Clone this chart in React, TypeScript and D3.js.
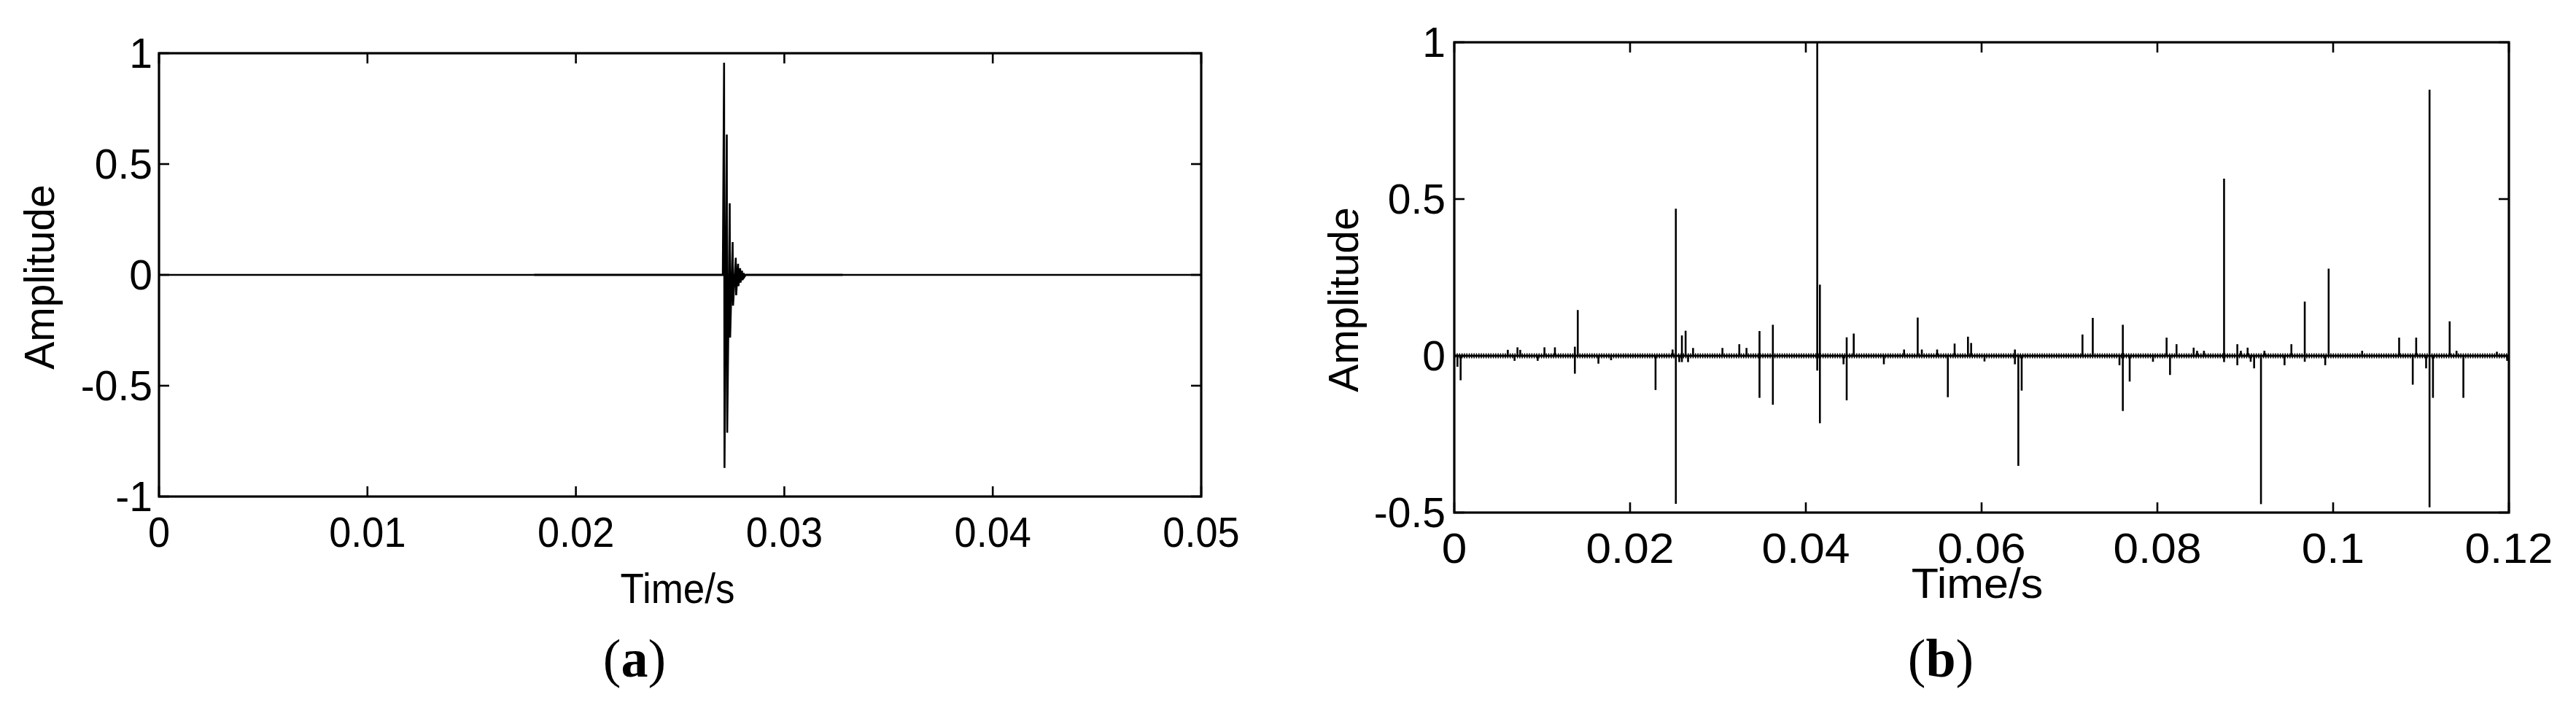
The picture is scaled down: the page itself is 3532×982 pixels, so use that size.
import React from 'react';
import * as d3 from 'd3';

const W = 3532;
const H = 982;

// ---------- Panel (a) data ----------
const aXTicks = [0, 0.01, 0.02, 0.03, 0.04, 0.05];
const aYTicks = [-1, -0.5, 0, 0.5, 1];
const aTime = [
  0, 0.02705, 0.02711, 0.02713, 0.02724, 0.02726, 0.02738, 0.0274, 0.02752, 0.02754,
  0.02767, 0.02769, 0.02778, 0.0278, 0.02788, 0.0279, 0.02797, 0.02799, 0.02805, 0.02808,
  0.02815, 0.05,
];
const aAmp = [
  0, 0, 0.957, -0.871, 0.633, -0.712, 0.323, -0.283, 0.148, -0.139,
  0.077, -0.092, 0.05, -0.051, 0.03, -0.035, 0.019, -0.024, 0.008, -0.01,
  0, 0,
];
const aNoiseSpan = [0.018, 0.0328];

// ---------- Panel (b) data ----------
const bXTicks = [0, 0.02, 0.04, 0.06, 0.08, 0.1, 0.12];
const bYTicks = [-0.5, 0, 0.5, 1];
const bSpikeTime = [
  0.00036, 0.00072, 0.00609, 0.00686, 0.00719, 0.0075, 0.00949, 0.01026, 0.01145, 0.01372,
  0.01405, 0.0164, 0.01784, 0.0229, 0.02484, 0.02521, 0.0256, 0.0259, 0.02632, 0.0266,
  0.02717, 0.03051, 0.03243, 0.03325, 0.03473, 0.03625, 0.0413, 0.0416, 0.04429, 0.04465,
  0.04545, 0.04888, 0.05118, 0.05273, 0.0532, 0.05494, 0.05616, 0.05693, 0.05845, 0.05881,
  0.06033, 0.06379, 0.06418, 0.06456, 0.07148, 0.07265, 0.07569, 0.07607, 0.07685, 0.0795,
  0.08105, 0.08144, 0.08218, 0.08413, 0.08452, 0.0853, 0.08759, 0.0891, 0.0895, 0.09027,
  0.09062, 0.09101, 0.09179, 0.09218, 0.09447, 0.09525, 0.09677, 0.0991, 0.09949, 0.1033,
  0.10751, 0.10906, 0.10945, 0.11058, 0.11097, 0.11136, 0.11326, 0.11404, 0.11482, 0.11863,
  0.1198,
];
const bSpikeUp = [
  0, 0, 0.019, 0, 0.027, 0.019, 0, 0.027, 0.027, 0.029,
  0.146, 0, 0, 0, 0.02, 0.469, 0, 0.065, 0.08, 0,
  0.025, 0.025, 0.037, 0.025, 0.079, 0.099, 1.0, 0.227, 0, 0.059,
  0.071, 0, 0.02, 0.122, 0.02, 0.02, 0, 0.039, 0.061, 0.041,
  0, 0.02, 0, 0, 0.068, 0.121, 0, 0.099, 0, 0,
  0.058, 0, 0.037, 0.026, 0.016, 0.016, 0.565, 0.037, 0.016, 0.026,
  0, 0, 0, 0.016, 0, 0.037, 0.173, 0, 0.278, 0.016,
  0.058, 0, 0.058, 0, 0.849, 0, 0.11, 0.016, 0, 0.013,
  0,
];
const bSpikeDown = [
  -0.035, -0.078, 0, -0.016, 0, 0, -0.016, 0, 0, -0.057,
  0, -0.025, -0.014, -0.109, 0, -0.472, -0.02, -0.02, 0, -0.02,
  0, 0, 0, 0, -0.134, -0.156, -0.047, -0.215, -0.027, -0.142,
  0, -0.027, 0, 0, 0, 0, -0.132, 0, 0, 0,
  -0.018, -0.027, -0.351, -0.111, 0, 0, -0.03, -0.176, -0.082, -0.019,
  0, -0.061, 0, 0, 0, 0, -0.02, -0.03, 0, 0,
  -0.019, -0.04, -0.473, 0, -0.03, 0, -0.019, -0.03, 0, 0,
  0, -0.092, 0, -0.04, -0.483, -0.134, 0, 0, -0.134, 0,
  -0.016,
];

const SANS = '"Liberation Sans", Arial, Helvetica, sans-serif';
const SERIF = '"Liberation Serif", "Times New Roman", serif';
const FS = 57;
const TICK = 14;

type PanelProps = {
  x0: number; x1: number; yTop: number; yBot: number;
  xDomain: [number, number]; yDomain: [number, number];
  xTicks: number[]; yTicks: number[];
  xLabelBase: number; xLabelSx: number;
  yLabelEnd: number;
  xTitle: { x: number; y: number; sx: number };
  yTitle: { x: number; y: number };
  cap: { x: number; y: number; letter: string };
  children: (x: d3.ScaleLinear<number, number>, y: d3.ScaleLinear<number, number>) => React.ReactNode;
};

function Panel(p: PanelProps) {
  const x = d3.scaleLinear().domain(p.xDomain).range([p.x0, p.x1]);
  const y = d3.scaleLinear().domain(p.yDomain).range([p.yBot, p.yTop]);
  return (
    <g>
      {p.children(x, y)}
      {/* box */}
      <rect x={p.x0} y={p.yTop} width={p.x1 - p.x0} height={p.yBot - p.yTop}
        fill="none" stroke="#000" strokeWidth={3.2} />
      {/* x ticks (inward, top & bottom) */}
      {p.xTicks.map((t) => (
        <g key={'xt' + t}>
          <line x1={x(t)} x2={x(t)} y1={p.yBot} y2={p.yBot - TICK} stroke="#000" strokeWidth={2.6} />
          <line x1={x(t)} x2={x(t)} y1={p.yTop} y2={p.yTop + TICK} stroke="#000" strokeWidth={2.6} />
          <text transform={`translate(${x(t)},${p.xLabelBase}) scale(${p.xLabelSx},1)`}
            textAnchor="middle" fontFamily={SANS} fontSize={FS} fill="#000">{String(t)}</text>
        </g>
      ))}
      {/* y ticks (inward, left & right) */}
      {p.yTicks.map((t) => (
        <g key={'yt' + t}>
          <line x1={p.x0} x2={p.x0 + TICK} y1={y(t)} y2={y(t)} stroke="#000" strokeWidth={2.6} />
          <line x1={p.x1} x2={p.x1 - TICK} y1={y(t)} y2={y(t)} stroke="#000" strokeWidth={2.6} />
          <text x={p.yLabelEnd} y={y(t) + FS * 0.355} textAnchor="end" fontFamily={SANS} fontSize={FS}
            fill="#000">
            {String(t)}
          </text>
        </g>
      ))}
      <text transform={`translate(${p.xTitle.x},${p.xTitle.y}) scale(${p.xTitle.sx},1)`}
        textAnchor="middle" fontFamily={SANS} fontSize={FS} fill="#000">Time/s</text>
      <text transform={`translate(${p.yTitle.x},${p.yTitle.y}) rotate(-90)`}
        textAnchor="middle" fontFamily={SANS} fontSize={FS} fill="#000">Amplitude</text>
      <text x={p.cap.x} y={p.cap.y} textAnchor="middle" fontFamily={SERIF} fontSize={74} fill="#000">
        (<tspan fontWeight="bold">{p.cap.letter}</tspan>)
      </text>
    </g>
  );
}

export default function App() {
  const aPts: [number, number][] = aTime.map((t, i) => [t, aAmp[i]]);
  return (
    <svg width={W} height={H} viewBox={`0 0 ${W} ${H}`}
      style={{ position: 'absolute', left: 0, top: 0, background: '#fff' }}>
      <rect x={0} y={0} width={W} height={H} fill="#fff" />
      <Panel
        x0={218} x1={1647} yTop={73} yBot={681}
        xDomain={[0, 0.05]} yDomain={[-1, 1]}
        xTicks={aXTicks} yTicks={aYTicks}
        xLabelBase={750} xLabelSx={0.95} yLabelEnd={209}
        xTitle={{ x: 929, y: 827, sx: 0.93 }}
        yTitle={{ x: 74, y: 380 }}
        cap={{ x: 870, y: 928, letter: 'a' }}
      >
        {(x, y) => {
          const line = d3.line<[number, number]>().x((d) => x(d[0])).y((d) => y(d[1]));
          return (
            <g>
              <line x1={x(aNoiseSpan[0])} x2={x(aNoiseSpan[1])} y1={y(0)} y2={y(0)}
                stroke="#555" strokeWidth={3.2} />
              <path d={line(aPts) || ''} fill="none" stroke="#000" strokeWidth={2.6}
                strokeLinejoin="miter" />
            </g>
          );
        }}
      </Panel>
      <Panel
        x0={1994} x1={3440} yTop={58} yBot={703}
        xDomain={[0, 0.12]} yDomain={[-0.5, 1]}
        xTicks={bXTicks} yTicks={bYTicks}
        xLabelBase={772} xLabelSx={1.09} yLabelEnd={1982}
        xTitle={{ x: 2711, y: 820, sx: 1.07 }}
        yTitle={{ x: 1862, y: 411 }}
        cap={{ x: 2661, y: 928, letter: 'b' }}
      >
        {(x, y) => (
          <g>
            <line x1={x(0)} x2={x(0.12)} y1={y(0)} y2={y(0)} stroke="#000" strokeWidth={2.8} />
            <line x1={x(0)} x2={x(0.12)} y1={y(0)} y2={y(0)} stroke="#000" strokeWidth={7}
              strokeDasharray="1.5 1.8" />
            {bSpikeTime.map((t, i) => (
              <line key={i} x1={x(t)} x2={x(t)} y1={y(bSpikeDown[i])} y2={y(bSpikeUp[i])}
                stroke="#000" strokeWidth={2.6} />
            ))}
          </g>
        )}
      </Panel>
    </svg>
  );
}
